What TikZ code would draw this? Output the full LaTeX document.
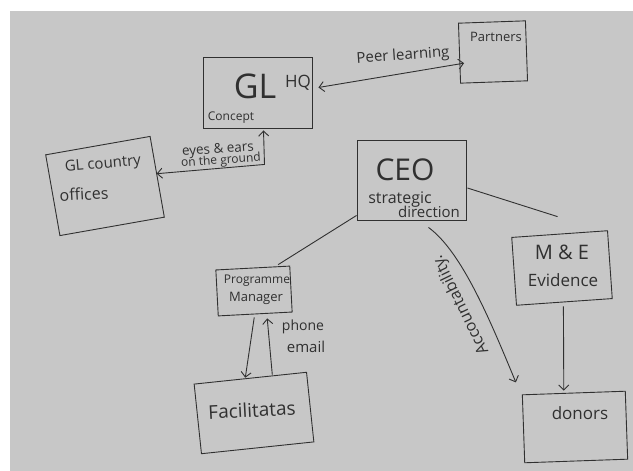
\documentclass[tikz,border=0pt]{standalone}
\usepackage{fontspec}
\setmainfont{Open Sans}
\usetikzlibrary{arrows.meta,calc}
\definecolor{paper}{RGB}{199,199,199}
\definecolor{ink}{RGB}{48,48,48}
\begin{document}
\begin{tikzpicture}[x=1pt,y=-1pt,
  box/.style={draw=ink,line width=0.9pt,inner sep=0pt},
  lbl/.style={text=ink,inner sep=0pt},
  conn/.style={draw=ink,line width=0.9pt},
  >={Straight Barb[length=5pt,width=10pt]}]
\fill[white] (0,0) rectangle (633,471);
\fill[paper] (10,11) rectangle (633,471);
\useasboundingbox (0,0) rectangle (633,471);

% GL HQ
\node[box, minimum width=109pt, minimum height=71pt] (hq) at (257.5,92.5) {};
\node[lbl,font=\fontsize{34}{34}\selectfont] (tgl) at (255,86) {GL};
\node[lbl,font=\fontsize{17}{17}\selectfont] (thq) at (298,83) {HQ};
\node[lbl,font=\fontsize{12}{12}\selectfont] (tcon) at (231,118) {Concept};

% Partners
\node[box, minimum width=67pt, minimum height=60pt, rotate=2] (par) at (493,52) {};
\node[lbl,font=\fontsize{13}{13}\selectfont] (tpar) at (496,37) {Partners};
\node[lbl,font=\fontsize{15}{15}\selectfont, rotate=4] (tpeer) at (403,56) {Peer learning};
\draw[conn,<->] ($(hq.east)+(6,-5)$) -- ($(par.west)+(5,10)$);

% GL country offices
\node[box, minimum width=106pt, minimum height=82pt, rotate=10] (off) at (105,186) {};
\node[lbl,font=\fontsize{15}{15}\selectfont, rotate=5] (tgc) at (103,165) {GL country};
\node[lbl,font=\fontsize{16}{16}\selectfont, rotate=3] (tof) at (84,194) {offices};
\draw[conn,<->] ($(hq.south)+(6,2)$) -- ++(1,34) -- ($(off.east)+(-1,-3)$);
\node[lbl,font=\fontsize{13.5}{13.5}\selectfont, rotate=4] (teye) at (218,150) {eyes \& ears};
\node[lbl,font=\fontsize{12}{12}\selectfont, rotate=4] (tgr) at (221,161) {on the ground};

% CEO
\node[box, minimum width=109pt, minimum height=80pt] (ceo) at (411.5,180) {};
\node[lbl,font=\fontsize{30}{30}\selectfont] (tceo) at (405,170) {CEO};
\node[lbl,font=\fontsize{16}{16}\selectfont] (tstr) at (400,200) {strategic};
\node[lbl,font=\fontsize{15}{15}\selectfont] (tdir) at (429,212) {direction};

% M&E
\node[box, minimum width=96pt, minimum height=68pt, rotate=4] (me) at (562,268) {};
\node[lbl,font=\fontsize{20}{20}\selectfont] (tme) at (562,252) {M \& E};
\node[lbl,font=\fontsize{17}{17}\selectfont] (tev) at (563,280) {Evidence};
\draw[conn] ($(ceo.east)+(1,8)$) -- ($(me.north)+(-2,-17)$);

% Programme Manager
\node[box, minimum width=74pt, minimum height=46pt, rotate=3] (pm) at (254,291) {};
\node[lbl,font=\fontsize{12}{12}\selectfont] (tprog) at (257,281) {Programme};
\node[lbl,font=\fontsize{13}{13}\selectfont] (tman) at (256,298) {Manager};
\draw[conn] ($(ceo.south west)+(0,-5)$) -- ($(pm.north east)+(-12,-1)$);

% Facilitators
\node[box, minimum width=113pt, minimum height=70pt, rotate=6] (fac) at (254,413) {};
\node[lbl,font=\fontsize{19}{19}\selectfont, rotate=3] (tfac) at (252,410) {Facilitatas};
\draw[conn,->] ($(pm.south)+(-1,3)$) -- ($(fac.north)+(-5,0)$);
\draw[conn,->] ($(fac.north)+(22,-3)$) -- ($(pm.south)+(12,4)$);
\node[lbl,font=\fontsize{14}{14}\selectfont] (tph) at (303,327) {phone};
\node[lbl,font=\fontsize{15}{15}\selectfont] (tem) at (306,347) {email};

% donors
\node[box, minimum width=103pt, minimum height=68pt, rotate=2] (don) at (575,427) {};
\node[lbl,font=\fontsize{17}{17}\selectfont] (tdon) at (580,413) {donors};
\draw[conn,->] ($(me.south)+(-1,4)$) -- ($(don.north)+(-10,-2)$);

% Accountability
\draw[conn,->] ($(ceo.south)+(17,7)$) .. controls (462,252) and (490,320) .. ($(don.north west)+(-6,-12)$);
\node[lbl,font=\fontsize{16}{16}\selectfont, rotate=116] (tacc) at (461,305) {Accountability.};
\end{tikzpicture}
\end{document}
